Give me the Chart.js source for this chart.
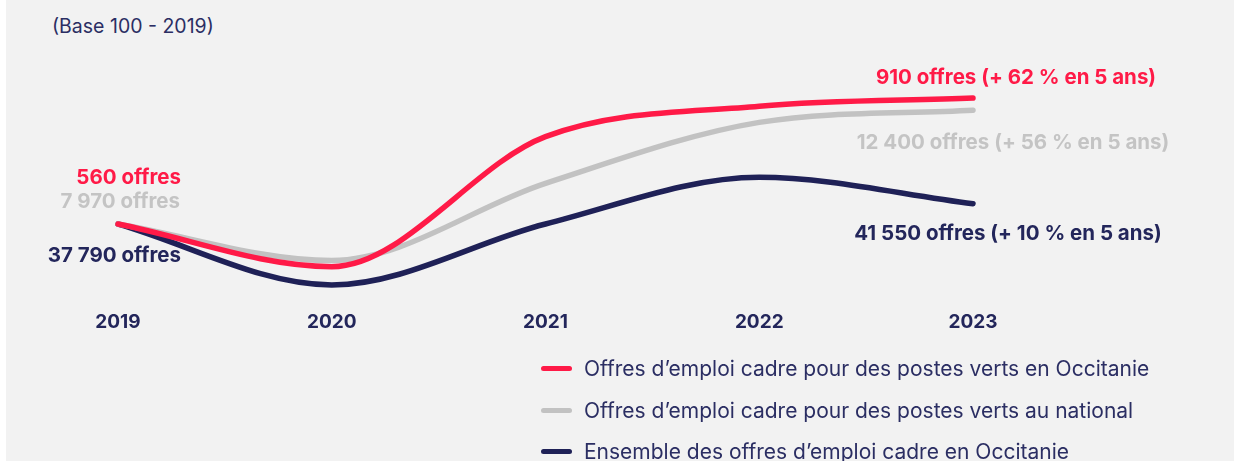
<!DOCTYPE html>
<html lang="fr">
<head>
<meta charset="utf-8">
<script src="https://cdn.jsdelivr.net/npm/chart.js@4.4.1/dist/chart.umd.min.js"></script>
<style>
  html, body { margin: 0; padding: 0; background: #fff; width: 1234px; height: 461px; overflow: hidden; }
  #bg { position: absolute; left: 6px; top: 0; width: 1228px; height: 461px; background: #f2f2f2; }
  #chart { position: absolute; left: 0; top: 0; }
  #base { position: absolute; left: 52px; top: 14px; font: 19.5px Inter, sans-serif; color: #2b2e63; }
  #legend { position: absolute; left: 541px; top: 348px; font: 21px Inter, sans-serif; color: #2b2e63; }
  #legend .item { display: flex; align-items: center; height: 41.5px; white-space: nowrap; }
  #legend .mark { width: 31px; height: 5px; border-radius: 3px; margin-right: 12px; }
</style>
</head>
<body>
<div id="bg"></div>
<div id="base">(Base 100 - 2019)</div>
<canvas id="chart" width="1234" height="461"></canvas>
<div id="legend"></div>
<script>
'use strict';

const years = ['2019', '2020', '2021', '2022', '2023'];
const seriesNames = [
  'Offres d’emploi cadre pour des postes verts en Occitanie',
  'Offres d’emploi cadre pour des postes verts au national',
  'Ensemble des offres d’emploi cadre en Occitanie',
];
const occitanieVerts = [100, 79, 143, 158, 162];
const nationalVerts = [100, 82, 120, 150, 156];
const occitanieTotal = [100, 70, 100, 123, 110];
const startLabels = ['560 offres', '7 970 offres', '37 790 offres'];
const endLabels = [
  '910 offres (+ 62 % en 5 ans)',
  '12 400 offres (+ 56 % en 5 ans)',
  '41 550 offres (+ 10 % en 5 ans)',
];

const COLORS = ['#ff1a47', '#c2c2c2', '#1f2157'];
const TEXT_COLORS = ['#ff1a47', '#c4c4c4', '#23265b'];
const LABEL_FONT = 'bold 20.5px Inter, sans-serif';

// offsets of the value labels from the first / last point
const START_OFF = [[63, -46], [62, -22], [63, 32]];
const END_OFF = [[43, -20], [40, 33], [35, 30]];

const valueLabels = {
  id: 'valueLabels',
  afterDatasetsDraw(chart) {
    const ctx = chart.ctx;
    ctx.save();
    ctx.font = LABEL_FONT;
    ctx.textBaseline = 'middle';
    chart.data.datasets.forEach((ds, i) => {
      const pts = chart.getDatasetMeta(i).data;
      const first = pts[0];
      const last = pts[pts.length - 1];
      ctx.fillStyle = TEXT_COLORS[i];
      ctx.textAlign = 'right';
      ctx.fillText(startLabels[i], first.x + START_OFF[i][0], first.y + START_OFF[i][1]);
      ctx.textAlign = 'center';
      ctx.fillText(endLabels[i], last.x + END_OFF[i][0], last.y + END_OFF[i][1]);
    });
    ctx.restore();
  },
};

const values = [occitanieVerts, nationalVerts, occitanieTotal];

new Chart(document.getElementById('chart'), {
  type: 'line',
  data: {
    labels: years,
    datasets: values.map((v, i) => ({
      label: seriesNames[i],
      data: v,
      borderColor: COLORS[i],
      borderWidth: 5.5,
      borderCapStyle: 'round',
      cubicInterpolationMode: 'monotone',
      pointRadius: 0,
      clip: false,
    })),
  },
  options: {
    responsive: false,
    animation: false,
    layout: { padding: { left: 118, right: 261, top: 20, bottom: 121 } },
    plugins: { legend: { display: false }, tooltip: { enabled: false } },
    scales: {
      x: {
        offset: false,
        grid: { display: false, drawTicks: false },
        border: { display: false },
        ticks: { color: '#23265b', font: { family: 'Inter, sans-serif', size: 19, weight: 'bold' }, padding: 11, maxRotation: 0 },
        afterFit: s => { s.height = 40; },
      },
      y: { display: false, min: 62.6, max: 200.4 },
    },
  },
  plugins: [valueLabels],
});

const legend = document.getElementById('legend');
seriesNames.forEach((name, i) => {
  const row = document.createElement('div');
  row.className = 'item';
  row.innerHTML = `<span class="mark" style="background:${COLORS[i]}"></span><span>${name}</span>`;
  legend.appendChild(row);
});
</script>
</body>
</html>
